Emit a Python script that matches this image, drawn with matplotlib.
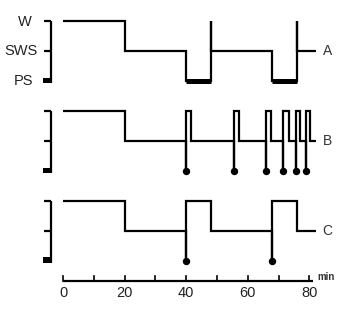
import matplotlib.pyplot as plt
from matplotlib.patches import Rectangle

plt.rcParams['font.family'] = ['Liberation Sans', 'DejaVu Sans']

# sleep states
W, SWS, PS = 2, 1, 0
state_names = ['W', 'SWS', 'PS']

# panel A: classic cycle with PS periods
a_t = [0, 20, 40, 48, 48, 68, 76, 76, 82]
a_s = [W, SWS, PS, W, SWS, PS, W, SWS, SWS]
a_ps = [(40, 48), (68, 76)]

# panel B: short PS episodes (dots) each followed by brief waking
b_ps = [40, 55.5, 66, 71.5, 75.5, 79]
b_wake_end = [41.5, 57, 67.5, 73.5, 77, 80.3]

# panel C
c_t = [0, 20, 40, 40, 48, 68, 68, 76, 82]
c_s = [W, SWS, PS, W, SWS, PS, W, SWS, SWS]
c_ps = [40, 68]

x_ticks = [0, 10, 20, 30, 40, 50, 60, 70, 80]
x_labels = [0, 20, 40, 60, 80]

# build B trace
b_t = [0, 20]
b_s = [W, SWS]
for t, e in zip(b_ps, b_wake_end):
    b_t += [t, t, e]
    b_s += [PS, W, SWS]
b_t.append(82)
b_s.append(SWS)

fig = plt.figure(figsize=(3.41, 3.10), dpi=100)
ax = fig.add_axes([0, 0, 1, 1])
ax.set_xlim(-63 / 3.08, (341 - 63) / 3.08)
ax.set_ylim(-310 / 29.9 + 260.7 / 29.9, 260.7 / 29.9)
ax.axis('off')

lw = 1.6
panels = [('A', 6, a_t, a_s), ('B', 3, b_t, b_s), ('C', 0, c_t, c_s)]
for name, off, t, s in panels:
    ax.plot(t, [v + off for v in s], drawstyle='steps-post', color='black',
            lw=lw, solid_joinstyle='miter', solid_capstyle='butt')
    # left bracket
    ax.plot([-3.9, -3.9], [off - 0.07, off + W], color='black', lw=lw,
            solid_capstyle='butt')
    for lev in (W, SWS):
        ax.plot([-6.3, -3.9], [off + lev, off + lev], color='black', lw=lw,
                solid_capstyle='butt')
    ax.add_patch(Rectangle((-6.4, off - 0.07), 2.9, 0.18, color='black', lw=0))
    ax.text(85.8, off + SWS, name, fontsize=10, color='#333333',
            ha='center', va='center')

for a0, a1 in a_ps:
    ax.plot([a0, a1], [6 + PS, 6 + PS], color='black', lw=3.6,
            solid_capstyle='butt')

ax.plot(b_ps, [3 + PS] * len(b_ps), 'o', color='black', ms=4.3)
ax.plot(c_ps, [0 + PS] * len(c_ps), 'o', color='black', ms=4.3)

# state labels on panel A
label_x = [-12.3, -13.5, -12.9]
for lab, lev, lx in zip(state_names, [W, SWS, PS], label_x):
    ax.text(lx, 6 + lev, lab, fontsize=10.5, color='#222222',
            ha='center', va='center')

# time axis
ax.plot([0, 81.2], [-0.667, -0.667], color='black', lw=lw, solid_capstyle='butt')
for xt in x_ticks:
    ax.plot([xt, xt], [-0.667, -0.5], color='black', lw=1.2)
for xl in x_labels:
    ax.text(xl, -1.08, str(xl), fontsize=10.5, color='#222222',
            ha='center', va='center')
ax.text(85.4, -0.53, 'min', fontsize=7, fontweight='bold', color='#333333',
        ha='center', va='center')

fig.savefig('out.png', dpi=100)
